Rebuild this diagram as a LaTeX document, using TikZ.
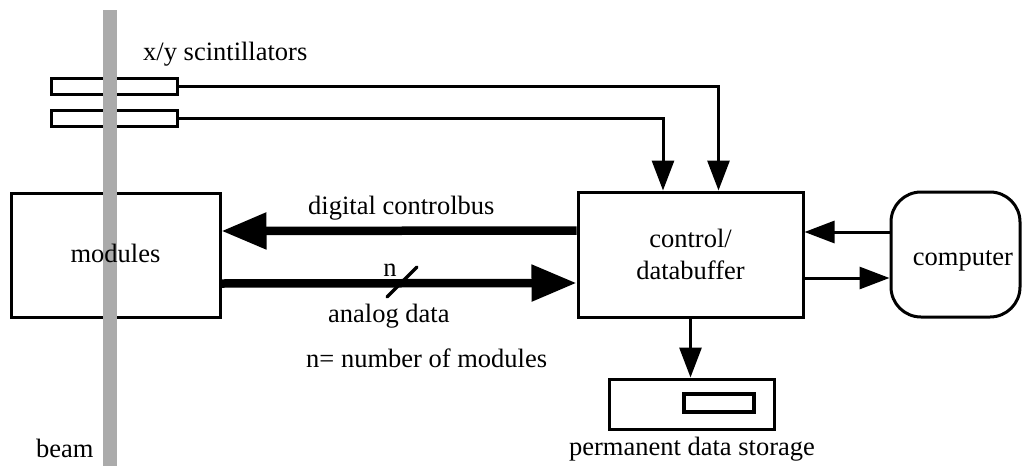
\documentclass[tikz,border=0pt]{standalone}
\usepackage{fontspec}
\setmainfont{Liberation Serif}
\usetikzlibrary{arrows.meta}
\definecolor{beamgray}{HTML}{ABABAB}
\tikzset{
  box/.style={draw, line width=3pt, rectangle, inner sep=0pt},
  thinarrow/.style={line width=3pt, -{Triangle[length=30pt, width=22pt]}},
  busarrow/.style={line width=8.5pt, -{Triangle[length=45pt, width=35pt]}},
  lbl/.style={inner sep=0pt, font=\fontsize{26.5}{32}\selectfont},
}
\begin{document}
\begin{tikzpicture}[x=1pt, y=-1pt]
\useasboundingbox (0,0) rectangle (1023,466);

% scintillators, module block and the storage unit
\node[box, minimum width=126pt, minimum height=16pt] (scintA) at (114,86) {};
\node[box, minimum width=126pt, minimum height=16pt] (scintB) at (114,118) {};
\node[box, minimum width=209pt, minimum height=124pt] (mod) at (115.5,255) {};
\node[box, minimum width=225pt, minimum height=125pt, align=center, lbl]
  (ctrl) at (690.5,254.5) {control/\\databuffer};
\node[box, rounded corners=30pt, minimum width=129pt, minimum height=125pt]
  (comp) at (955.5,254.5) {};
\node[box, minimum width=165pt, minimum height=50pt] (store) at (691.5,404) {};
\node[draw, line width=4.5pt, minimum width=70pt, minimum height=18pt, inner sep=0pt]
  (slot) at (719,403) {};

% the beam passes over the detector elements
\fill[beamgray] (103,10) rectangle (117,466);

% labels
\node[lbl, anchor=base] (modlabel) at (mod.center |- 0,262) {modules};
\node[lbl, anchor=base] (complabel) at (963,265) {computer};
\node[lbl, anchor=base west] (scintlabel) at (143,60) {x/y scintillators};
\node[lbl, anchor=base west] (beamlabel) at (36,457) {beam};
\node[lbl, anchor=base west] (buslabel) at (308,214) {digital controlbus};
\node[lbl, anchor=base] (nlabel) at (390,276) {n};
\node[lbl, anchor=base west] (analoglabel) at (328,322) {analog data};
\node[lbl, anchor=base west] (nmodlabel) at (306,367) {n= number of modules};
\node[lbl, anchor=base] (storelabel) at (692,455) {permanent data storage};

% scintillator signals
\draw[thinarrow] (scintA.east) -| ([xshift=28pt]ctrl.north);
\draw[thinarrow] (scintB.east) -| ([xshift=-27.5pt]ctrl.north);

% buses between modules and buffer
\draw[busarrow] ([yshift=24pt]ctrl.west) -- ([yshift=24pt]mod.east);
\draw[busarrow] ([yshift=-28.5pt]mod.east) -- ([yshift=-28.5pt]ctrl.west);
\draw[line width=3.5pt, line cap=round] (387,297) -- (417,267);

% computer link and storage
\draw[thinarrow] ([yshift=22.5pt]comp.west) -- ([yshift=22.5pt]ctrl.east);
\draw[thinarrow] ([yshift=-23.5pt]ctrl.east) -- ([yshift=-23.5pt]comp.west);
\draw[thinarrow] (ctrl.south) -- (ctrl.south |- store.north);
\end{tikzpicture}
\end{document}
